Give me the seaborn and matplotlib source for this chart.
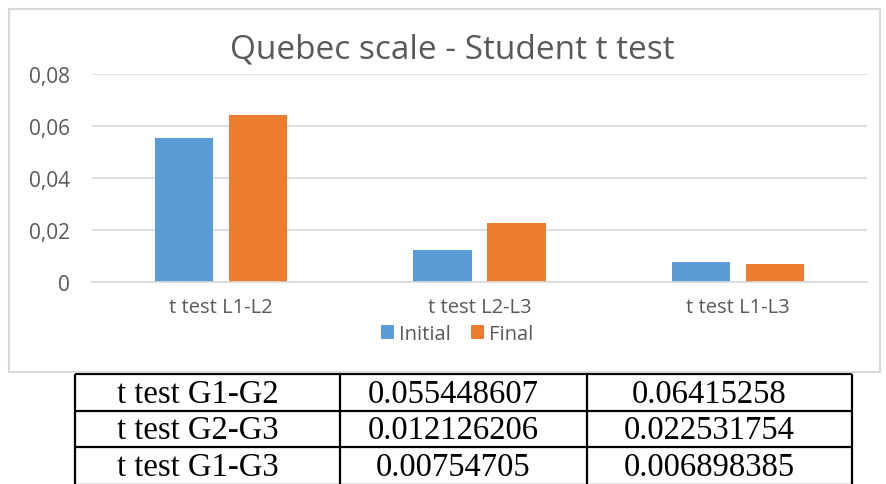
import pandas as pd
import matplotlib
matplotlib.use("Agg")
import matplotlib.pyplot as plt
import seaborn as sns
from matplotlib.patches import Rectangle

# chart data
tests = ["t test L1-L2", "t test L2-L3", "t test L1-L3"]
initial = [0.055448607, 0.012126206, 0.00754705]
final = [0.06415258, 0.022531754, 0.006898385]
series = ["Initial", "Final"]

# table below the chart
table_rows = ["t test G1-G2", "t test G2-G3", "t test G1-G3"]

df = pd.DataFrame({
    "test": tests * 2,
    "series": [series[0]] * 3 + [series[1]] * 3,
    "p": initial + final,
})

sns.set_style("white")
plt.rcParams["font.family"] = ["Open Sans", "DejaVu Sans"]

text_gray = "#595959"
grid_gray = "#D9D9D9"

fig = plt.figure(figsize=(8.86, 4.85), dpi=100)

# chart frame
fig.patches.append(Rectangle((9 / 886, 1 - 373 / 485), 871 / 886, 363 / 485,
                             transform=fig.transFigure, fill=False,
                             edgecolor=grid_gray, linewidth=1.5))

ax = fig.add_axes([92 / 886, 1 - 283 / 485, 775 / 886, 208 / 485])
sns.barplot(data=df, x="test", y="p", hue="series", ax=ax,
            palette=["#5B9BD5", "#ED7D31"], width=0.573, gap=0.216,
            saturation=1, edgecolor="none")

ax.set_ylim(0, 0.08)
ax.set_yticks([0, 0.02, 0.04, 0.06, 0.08])
ax.set_yticklabels(["0" if v == 0 else f"{v:.2f}".replace(".", ",") for v in ax.get_yticks()])
ax.yaxis.grid(True, color=grid_gray, linewidth=1.2)
ax.set_axisbelow(True)
for s in ["top", "right", "left"]:
    ax.spines[s].set_visible(False)
ax.spines["bottom"].set_color(grid_gray)
ax.spines["bottom"].set_linewidth(1.2)
ax.tick_params(axis="x", length=0, labelsize=14.5, colors=text_gray, pad=11)
ax.tick_params(axis="y", length=0, labelsize=15, colors=text_gray, pad=16)
ax.set_xlabel("")
ax.set_ylabel("")

fig.text(452 / 886, 1 - 50 / 485, "Quebec scale - Student t test",
         ha="center", va="center", fontsize=24, color=text_gray)

ax.legend(loc="center", bbox_to_anchor=(457 / 886, 1 - 335 / 485),
          bbox_transform=fig.transFigure, ncol=2, frameon=False,
          fontsize=14.5, labelcolor=text_gray, handlelength=0.65,
          handleheight=0.65, handletextpad=0.25, columnspacing=1.0)

# table, drawn in pixel units of the figure
tax = fig.add_axes([0, 0, 1, 1])
tax.set_xlim(0, 886)
tax.set_ylim(485, 0)
tax.axis("off")
col_edges = [75, 340, 587, 852]
row_edges = [375, 412, 448, 486]
tax.vlines(col_edges, row_edges[0], row_edges[-1], color="black", linewidth=1.6)
tax.hlines(row_edges, col_edges[0], col_edges[-1], color="black", linewidth=1.6)
cells = [[r, str(a), str(b)] for r, a, b in zip(table_rows, initial, final)]
for i, row in enumerate(cells):
    yc = (row_edges[i] + row_edges[i + 1]) / 2 + 1
    for j, txt in enumerate(row):
        xc = (col_edges[j] + col_edges[j + 1]) / 2 - 10
        tax.text(xc, yc, txt, ha="center", va="center", fontsize=23.5,
                 family="Liberation Serif", color="black")

fig.savefig("out.png", dpi=100)
